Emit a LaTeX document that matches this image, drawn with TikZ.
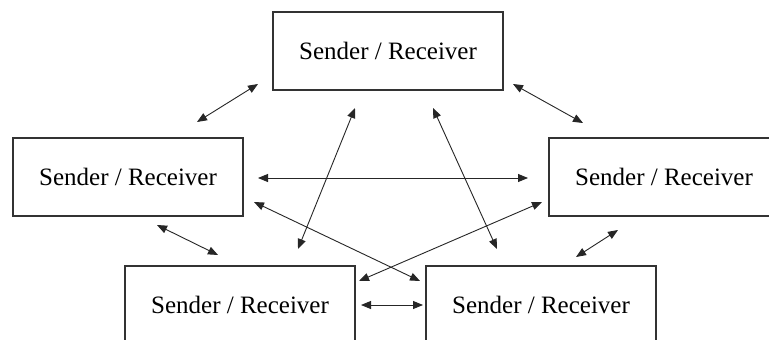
\documentclass[tikz,border=0pt]{standalone}
\usepackage{fontspec}
\setmainfont{Liberation Serif}
\usetikzlibrary{arrows.meta}
\begin{document}
\begin{tikzpicture}[x=1pt,y=-1pt,
  party/.style={draw=black!80,line width=1.1pt,minimum width=230pt,minimum height=78pt,
    inner sep=0pt,font=\fontsize{25}{28}\selectfont,fill=white},
  link/.style={draw=black!85,line width=0.9pt,{Triangle[length=10pt,width=8pt]}-{Triangle[length=10pt,width=8pt]}}]
\useasboundingbox (0,0) rectangle (769,340);
\clip (0,0) rectangle (769,340);
\fill[white] (0,0) rectangle (769,340);
% the five parties
\node[party] (top)   at (388,51)  {Sender / Receiver};
\node[party] (left)  at (128,177) {Sender / Receiver};
\node[party] (right) at (664,177) {Sender / Receiver};
\node[party] (botl)  at (240,305) {Sender / Receiver};
\node[party] (botr)  at (541,305) {Sender / Receiver};
% arrow end points
\coordinate (a1) at (197,122); \coordinate (a2) at (258,84);
\coordinate (b1) at (513,84);  \coordinate (b2) at (583,123);
\coordinate (c1) at (157,225); \coordinate (c2) at (218,255);
\coordinate (d1) at (361,305); \coordinate (d2) at (423,305);
\coordinate (e1) at (618,230); \coordinate (e2) at (576,257);
\coordinate (f1) at (355,108); \coordinate (f2) at (298,249);
\coordinate (g1) at (433,108); \coordinate (g2) at (497,249);
\coordinate (h1) at (258,178); \coordinate (h2) at (528,178);
\coordinate (i1) at (254,202); \coordinate (i2) at (420,281);
\coordinate (j1) at (542,202); \coordinate (j2) at (359,281);
% links between parties
\draw[link] (a1) -- (a2);
\draw[link] (b1) -- (b2);
\draw[link] (c1) -- (c2);
\draw[link] (d1) -- (d2);
\draw[link] (e1) -- (e2);
\draw[link] (f1) -- (f2);
\draw[link] (g1) -- (g2);
\draw[link] (h1) -- (h2);
\draw[link] (i1) -- (i2);
\draw[link] (j1) -- (j2);
\end{tikzpicture}
\end{document}
